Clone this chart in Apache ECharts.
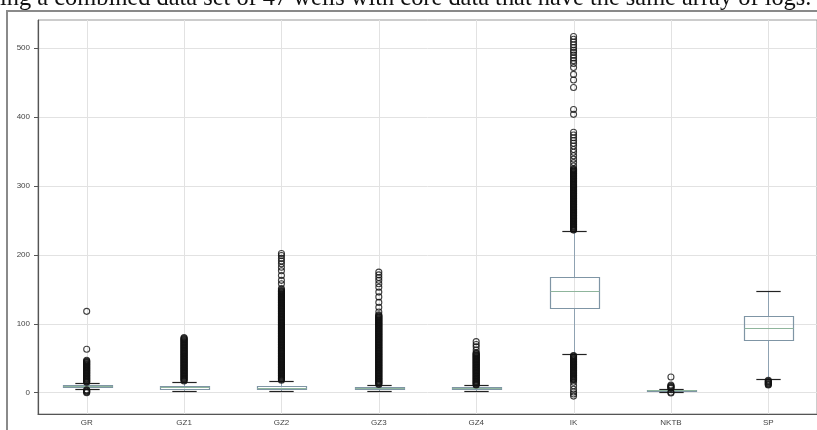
<!DOCTYPE html>
<html>
<head>
<meta charset="utf-8">
<script src="https://cdn.jsdelivr.net/npm/echarts@6/dist/echarts.min.js"></script>
<style>
  html, body { margin: 0; padding: 0; background: #fff; }
  #chart { width: 817px; height: 430px; }
</style>
</head>
<body>
<div id="chart"></div>
<script>
// Log curves shown on the x axis
const categories = ['GR', 'GZ1', 'GZ2', 'GZ3', 'GZ4', 'IK', 'NKTB', 'SP'];

// Box statistics per log
const lowerWhisker = [5, 2, 2, 2, 2, 56.5, 1.5, 19.8];
const q1 = [8, 5.5, 5, 5, 5, 123, 2.4, 76];
const median = [9.5, 7.5, 7, 6.5, 6.5, 148, 3.2, 93.5];
const q3 = [11.5, 9.5, 10, 8, 8, 168, 4, 111];
const upperWhisker = [14, 16, 17, 11.6, 10.6, 235, 5.5, 148];

// Value-axis tick labels
const yTicks = [0, 100, 200, 300, 400, 500];

// Outliers (fliers) per log
const outGR = [0, 1, 2, 3, 4,
  15, 16, 17, 18, 19, 20, 21, 22, 23, 24, 25, 26, 27, 28, 29, 30, 31, 32, 33, 34, 35,
  36, 37, 38, 39, 40, 41, 42, 43, 44, 45, 46, 47, 63, 118];
const outGZ1 = [17, 18, 19, 20, 21, 22, 23, 24, 25, 26, 27, 28, 29, 30, 31, 32, 33, 34, 35, 36,
  37, 38, 39, 40, 41, 42, 43, 44, 45, 46, 47, 48, 49, 50, 51, 52, 53, 54, 55, 56,
  57, 58, 59, 60, 61, 62, 63, 64, 65, 66, 67, 68, 69, 70, 71, 72, 73, 74, 75, 76,
  77, 78, 79, 80];
const outGZ2 = [18, 19, 20, 21, 22, 23, 24, 25, 26, 27, 28, 29, 30, 31, 32, 33, 34, 35, 36, 37,
  38, 39, 40, 41, 42, 43, 44, 45, 46, 47, 48, 49, 50, 51, 52, 53, 54, 55, 56, 57,
  58, 59, 60, 61, 62, 63, 64, 65, 66, 67, 68, 69, 70, 71, 72, 73, 74, 75, 76, 77,
  78, 79, 80, 81, 82, 83, 84, 85, 86, 87, 88, 89, 90, 91, 92, 93, 94, 95, 96, 97,
  98, 99, 100, 101, 102, 103, 104, 105, 106, 107, 108, 109, 110, 111, 112, 113, 114, 115, 116, 117,
  118, 119, 120, 121, 122, 123, 124, 125, 126, 127, 128, 129, 130, 131, 132, 133, 134, 135, 136, 137,
  138, 139, 140, 141, 142, 143, 144, 145, 146, 147, 148, 149,
  151, 158, 163, 170, 177, 182, 187, 191, 195, 199, 202];
const outGZ3 = [12, 13, 14, 15, 16, 17, 18, 19, 20, 21, 22, 23, 24, 25, 26, 27, 28, 29, 30, 31,
  32, 33, 34, 35, 36, 37, 38, 39, 40, 41, 42, 43, 44, 45, 46, 47, 48, 49, 50, 51,
  52, 53, 54, 55, 56, 57, 58, 59, 60, 61, 62, 63, 64, 65, 66, 67, 68, 69, 70, 71,
  72, 73, 74, 75, 76, 77, 78, 79, 80, 81, 82, 83, 84, 85, 86, 87, 88, 89, 90, 91,
  92, 93, 94, 95, 96, 97, 98, 99, 100, 101, 102, 103, 104, 105, 106, 107, 108, 109, 110, 111,
  112, 113, 117, 124, 131, 139, 146, 153, 158, 163, 167, 171, 175];
const outGZ4 = [11, 12, 13, 14, 15, 16, 17, 18, 19, 20, 21, 22, 23, 24, 25, 26, 27, 28, 29, 30,
  31, 32, 33, 34, 35, 36, 37, 38, 39, 40, 41, 42, 43, 44, 45, 46, 47, 48, 49, 50,
  51, 52, 53, 54, 55, 56, 57, 58, 62, 66.5, 70, 74];
const outIK = [-5, -2, 1, 5, 10, 15,
  18, 19, 20, 21, 22, 23, 24, 25, 26, 27, 28, 29, 30, 31, 32, 33, 34, 35, 36, 37,
  38, 39, 40, 41, 42, 43, 44, 45, 46, 47, 48, 49, 50, 51, 52, 53, 54,
  236, 237, 238, 239, 240, 241, 242, 243, 244, 245, 246, 247, 248, 249, 250, 251, 252, 253, 254, 255,
  256, 257, 258, 259, 260, 261, 262, 263, 264, 265, 266, 267, 268, 269, 270, 271, 272, 273, 274, 275,
  276, 277, 278, 279, 280, 281, 282, 283, 284, 285, 286, 287, 288, 289, 290, 291, 292, 293, 294, 295,
  296, 297, 298, 299, 300, 301, 302, 303, 304, 305, 306, 307, 308, 309, 310, 311, 312, 313, 314, 315,
  316, 317, 318, 319, 320, 321, 322, 323, 324, 325,
  329, 334, 339, 344, 349, 353, 358, 362, 366, 370, 374, 378, 404, 411, 443, 454, 462, 472, 478, 482,
  486, 490, 494, 497, 501, 505, 509, 513, 517];
const outNKTB = [-0.5, 0.5, 6, 7, 8, 9, 10, 11, 22.7];
const outSP = [11, 12, 13, 14, 15, 16, 17, 18];

const outliers = [outGR, outGZ1, outGZ2, outGZ3, outGZ4, outIK, outNKTB, outSP];

const boxData = categories.map((c, i) => [i, lowerWhisker[i], q1[i], median[i], q3[i], upperWhisker[i]]);
const flierData = [];
outliers.forEach((arr, i) => arr.forEach(v => flierData.push([i, v])));

const caption = 'ing a combined data set of 47 wells with core data that have the same array of logs.';

const BOX_COLOR = '#7f95a5';
const WHISKER_COLOR = '#8fa2b2';
const MEDIAN_COLOR = '#8fb59c';
const CAP_COLOR = '#222';
const GRID_COLOR = '#e2e2e2';

const px = v => Math.round(v) + 0.5;

function renderBox(params, api) {
  const i = api.value(0);
  const pLow = api.coord([i, api.value(1)]);
  const pQ1 = api.coord([i, api.value(2)]);
  const pMed = api.coord([i, api.value(3)]);
  const pQ3 = api.coord([i, api.value(4)]);
  const pHigh = api.coord([i, api.value(5)]);
  const band = api.size([1, 0])[0];
  const boxW = band * 0.5;
  const capW = boxW * 0.5;
  const cx = px(pLow[0]);
  const cs = params.coordSys;
  const line = (x1, y1, x2, y2, color, w) => ({
    type: 'line',
    shape: { x1, y1, x2, y2 },
    style: { stroke: color, lineWidth: w || 1 }
  });
  return {
    type: 'group',
    children: [
      line(cx, cs.y, cx, cs.y + cs.height, GRID_COLOR, 1),
      line(cx, px(pQ1[1]), cx, px(pLow[1]), WHISKER_COLOR, 1),
      line(cx, px(pQ3[1]), cx, px(pHigh[1]), WHISKER_COLOR, 1),
      {
        type: 'rect',
        shape: { x: px(cx - boxW / 2), y: px(pQ3[1]), width: Math.round(boxW), height: Math.max(1, Math.round(pQ1[1] - pQ3[1])) },
        style: { fill: 'none', stroke: BOX_COLOR, lineWidth: 1.2 }
      },
      line(cx - capW / 2, px(pLow[1]), cx + capW / 2, px(pLow[1]), CAP_COLOR, 1.2),
      line(cx - capW / 2, px(pHigh[1]), cx + capW / 2, px(pHigh[1]), CAP_COLOR, 1.2),
      line(px(cx - boxW / 2), px(pMed[1]), px(cx + boxW / 2), px(pMed[1]), MEDIAN_COLOR, 1.2)
    ]
  };
}

const chart = echarts.init(document.getElementById('chart'), null, { renderer: 'canvas' });
chart.setOption({
  animation: false,
  backgroundColor: '#fff',
  grid: {
    left: 38, top: 20, width: 785, height: 394,
    show: true, borderColor: '#9a9a9a', borderWidth: 1
  },
  xAxis: {
    type: 'category',
    data: categories,
    boundaryGap: true,
    axisLine: { onZero: false, lineStyle: { color: '#555', width: 1.2 } },
    axisTick: { alignWithLabel: true, length: 4, lineStyle: { color: '#555' } },
    axisLabel: { color: '#444', fontSize: 8, fontFamily: 'Liberation Sans', margin: 5 },
    splitLine: { show: false }
  },
  yAxis: {
    type: 'value',
    min: -31,
    max: 541,
    axisLine: { show: true, lineStyle: { color: '#555', width: 1.2 } },
    axisTick: { show: true, length: 4, lineStyle: { color: '#555' }, customValues: yTicks },
    axisLabel: {
      color: '#444', fontSize: 8, fontFamily: 'Liberation Sans', margin: 8,
      customValues: yTicks
    },
    splitLine: { show: true, lineStyle: { color: GRID_COLOR, width: 1 } }
  },
  graphic: [
    {
      type: 'rect',
      silent: true,
      shape: { x: 7, y: 11, width: 840, height: 450 },
      style: { fill: 'none', stroke: '#8a8a8a', lineWidth: 2 }
    },
    {
      type: 'text',
      silent: true,
      style: {
        text: caption,
        x: 0, y: -1,
        font: '24.4px "Liberation Serif"',
        fill: '#111',
        verticalAlign: 'middle'
      }
    }
  ],
  series: [
    {
      type: 'custom',
      renderItem: renderBox,
      data: boxData,
      encode: { x: 0, y: [1, 2, 3, 4, 5] },
      silent: true,
      z: 2
    },
    {
      type: 'scatter',
      data: flierData,
      symbol: 'circle',
      symbolSize: 6,
      itemStyle: { color: 'rgba(0,0,0,0)', borderColor: '#111', borderWidth: 1.1 },
      silent: true,
      z: 3
    }
  ]
});
</script>
</body>
</html>
